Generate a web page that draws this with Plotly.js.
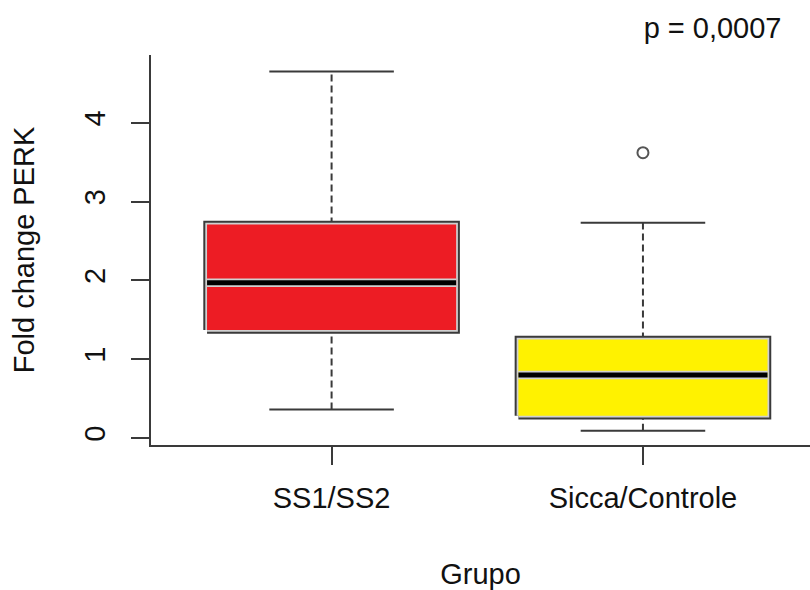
<!DOCTYPE html>
<html>
<head>
<meta charset="utf-8">
<script src="https://cdn.plot.ly/plotly-3.0.1.min.js"></script>
<style>html,body{margin:0;padding:0;background:#fff;}#chart{width:810px;height:590px;}</style>
</head>
<body>
<div id="chart"></div>
<script>
// ---- data ----
const groups = ['SS1/SS2', 'Sicca/Controle'];
const lowerWhisker = [0.36, 0.09];
const q1 = [1.37, 0.28];
const median = [1.97, 0.80];
const q3 = [2.71, 1.25];
const upperWhisker = [4.65, 2.73];
const outliers = [[], [3.62]];
const fillColors = ['#ED1C24', '#FFF200'];
const yTickVals = [0, 1, 2, 3, 4];
const yTickText = ['0', '1', '2', '3', '4'];
const xTitle = 'Grupo';
const yTitle = 'Fold change PERK';
const pText = 'p = 0,0007';

// ---- styling ----
const FONT = 'Liberation Sans, Arial, sans-serif';
const DARK = '#3a3a3a';
const LIGHT = '#d0d0d0';
const HALF = 0.4;      // half box width (R boxwex 0.8)
const CAP = 0.2;       // half staple width
const traces = [];

groups.forEach((g, i) => {
  const x = i + 1;
  const rx = [x - HALF, x + HALF, x + HALF, x - HALF, x - HALF];
  const ry = [q1[i], q1[i], q3[i], q3[i], q1[i]];
  const base = {type: 'scatter', mode: 'lines', hoverinfo: 'skip', showlegend: false};
  // whiskers (dashed)
  traces.push(Object.assign({}, base, {x: [x, x], y: [q3[i], upperWhisker[i]], line: {color: DARK, width: 2, dash: '7px,4px'}}));
  traces.push(Object.assign({}, base, {x: [x, x], y: [lowerWhisker[i], q1[i]], line: {color: DARK, width: 2, dash: '7px,4px'}}));
  // staples
  traces.push(Object.assign({}, base, {x: [x - CAP, x + CAP], y: [upperWhisker[i], upperWhisker[i]], line: {color: DARK, width: 2}}));
  traces.push(Object.assign({}, base, {x: [x - CAP, x + CAP], y: [lowerWhisker[i], lowerWhisker[i]], line: {color: DARK, width: 2}}));
  // box border layers
  traces.push(Object.assign({}, base, {x: rx, y: ry, line: {color: DARK, width: 7.5}}));
  traces.push(Object.assign({}, base, {x: rx, y: ry, line: {color: LIGHT, width: 3.5}}));
  // box fill
  traces.push(Object.assign({}, base, {x: rx, y: ry, fill: 'toself', fillcolor: fillColors[i], line: {width: 0, color: fillColors[i]}}));
  // median
  traces.push(Object.assign({}, base, {x: [x - HALF, x + HALF], y: [median[i], median[i]], line: {color: LIGHT, width: 8.5}}));
  traces.push(Object.assign({}, base, {x: [x - HALF, x + HALF], y: [median[i], median[i]], line: {color: '#000', width: 5}}));
  // outliers
  if (outliers[i].length) {
    traces.push({type: 'scatter', mode: 'markers', hoverinfo: 'skip', showlegend: false,
      x: outliers[i].map(() => x), y: outliers[i],
      marker: {symbol: 'circle-open', size: 11, color: '#555', line: {width: 2, color: '#555'}}});
  }
});

const layout = {
  width: 810, height: 590,
  margin: {l: 151, r: 0, t: 55, b: 145, pad: 0},
  paper_bgcolor: '#fff', plot_bgcolor: '#fff',
  font: {family: FONT, size: 29, color: '#111'},
  showlegend: false,
  title: {text: pText, x: 775 / 810, xanchor: 'right', xref: 'paper', y: 0.953, yanchor: 'middle',
          font: {family: FONT, size: 29, color: '#111'}},
  xaxis: {
    range: [0.42, 2.5365], showgrid: false, zeroline: false,
    showline: true, linecolor: DARK, linewidth: 2,
    tickmode: 'array', tickvals: groups.map((g, i) => i + 1), ticktext: groups,
    ticks: 'outside', ticklen: 18, tickwidth: 2, tickcolor: DARK, ticklabelstandoff: 8,
    tickfont: {family: FONT, size: 29, color: '#111'},
    title: {text: xTitle, font: {family: FONT, size: 29, color: '#111'}, standoff: 52}
  },
  yaxis: {
    range: [-0.09, 4.86], showgrid: false, zeroline: false,
    showline: true, linecolor: DARK, linewidth: 2,
    tickmode: 'array', tickvals: yTickVals, ticktext: yTickText, tickangle: -90,
    ticks: 'outside', ticklen: 18, tickwidth: 2, tickcolor: DARK, ticklabelstandoff: 14,
    tickfont: {family: FONT, size: 29, color: '#111'},
    title: {text: yTitle, font: {family: FONT, size: 29, color: '#111'}, standoff: 36}
  }
};

Plotly.newPlot('chart', traces, layout, {displayModeBar: false, staticPlot: true});
</script>
</body>
</html>
